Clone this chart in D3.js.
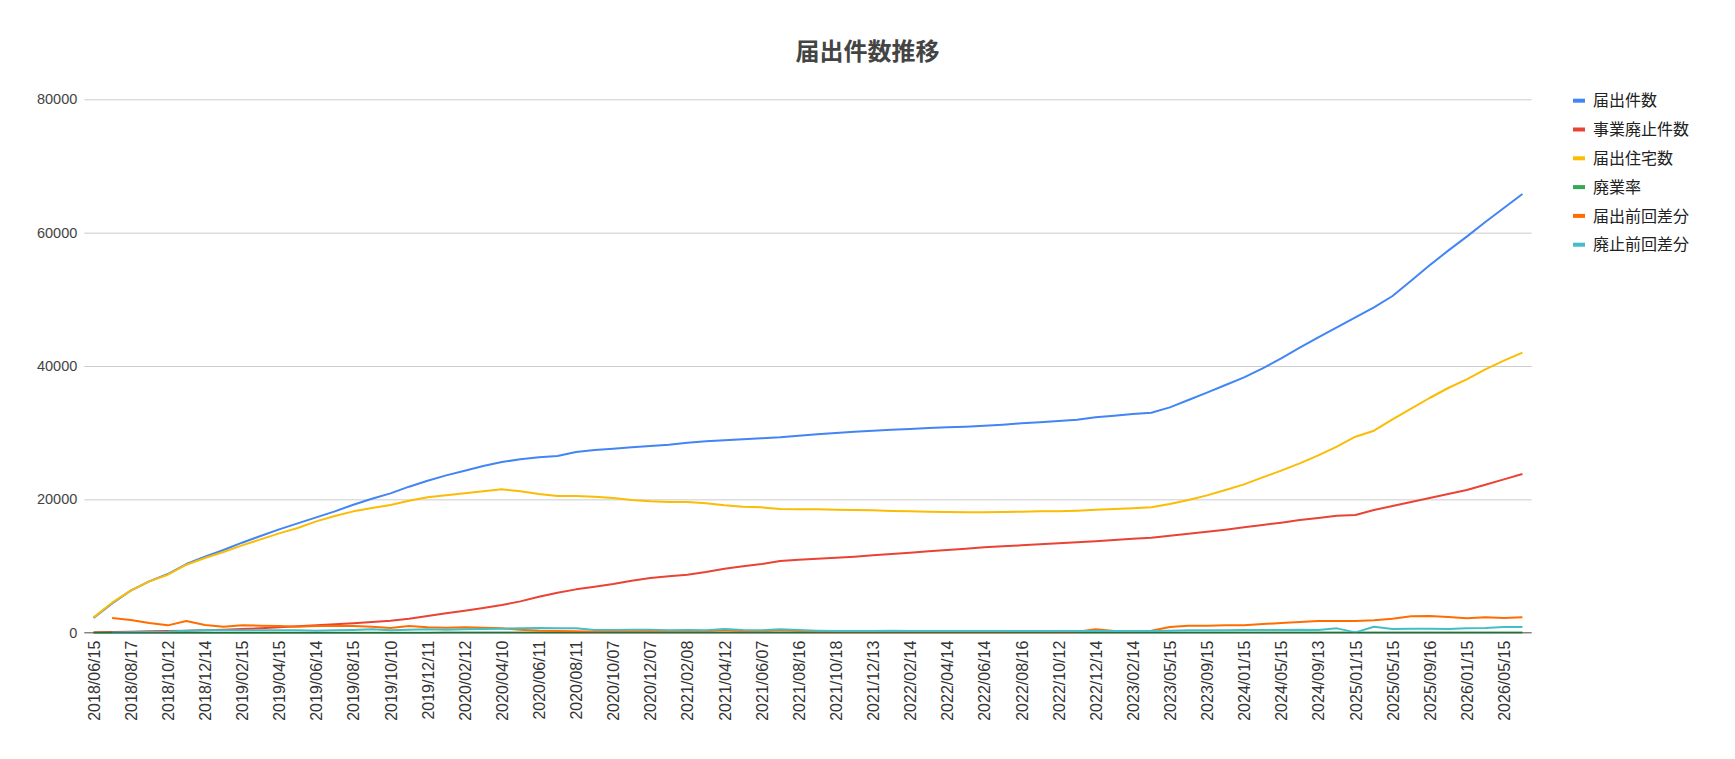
<!DOCTYPE html>
<html>
<head>
<meta charset="utf-8">
<script src="https://cdn.jsdelivr.net/npm/d3@7"></script>
<style>
  body { margin: 0; background: #fff; }
  svg { display: block; font-family: "Liberation Sans", Arial, "Noto Sans CJK JP", sans-serif; }
</style>
</head>
<body>
<div id="chart"></div>
<script>
// Data
const dates = [
  "2018/06/15", "2018/07/13", "2018/08/17", "2018/09/14", "2018/10/12", "2018/11/15", "2018/12/14", "2019/01/15",
  "2019/02/15", "2019/03/15", "2019/04/15", "2019/05/15", "2019/06/14", "2019/07/12", "2019/08/15", "2019/09/13",
  "2019/10/10", "2019/11/15", "2019/12/11", "2020/01/15", "2020/02/12", "2020/03/13", "2020/04/10", "2020/05/15",
  "2020/06/11", "2020/07/10", "2020/08/11", "2020/09/11", "2020/10/07", "2020/11/13", "2020/12/07", "2021/01/15",
  "2021/02/08", "2021/03/12", "2021/04/12", "2021/05/14", "2021/06/07", "2021/07/09", "2021/08/16", "2021/09/15",
  "2021/10/18", "2021/11/15", "2021/12/13", "2022/01/14", "2022/02/14", "2022/03/15", "2022/04/14", "2022/05/13",
  "2022/06/14", "2022/07/15", "2022/08/16", "2022/09/15", "2022/10/12", "2022/11/15", "2022/12/14", "2023/01/13",
  "2023/02/14", "2023/03/15", "2023/05/15", "2023/07/14", "2023/09/15", "2023/11/15", "2024/01/15", "2024/03/15",
  "2024/05/15", "2024/07/12", "2024/09/13", "2024/11/15", "2025/01/15", "2025/03/14", "2025/05/15", "2025/07/15",
  "2025/09/16", "2025/11/14", "2026/01/15", "2026/03/13", "2026/05/15", "2026/07/15"
];

const todokede = [
  2200, 4400, 6300, 7700, 8800, 10300, 11400, 12400, 13500, 14500, 15500, 16400, 17300, 18200, 19200, 20100,
  20900, 21900, 22800, 23600, 24300, 25000, 25600, 26000, 26300, 26500, 27100, 27400, 27600, 27800, 28000, 28200,
  28500, 28700, 28850, 29000, 29150, 29300, 29550, 29750, 29950, 30150, 30300, 30450, 30550, 30700, 30800, 30900,
  31050, 31200, 31400, 31550, 31750, 31950, 32300, 32550, 32800, 33000, 33800, 34900, 36000, 37150, 38300, 39650,
  41150, 42750, 44300, 45800, 47300, 48800, 50500, 52800, 55100, 57300, 59400, 61600, 63700, 65800
];

const haishi = [
  50, 100, 150, 200, 250, 300, 350, 450, 550, 650, 800, 950, 1100, 1250, 1400, 1600,
  1800, 2100, 2500, 2900, 3300, 3700, 4150, 4700, 5400, 6000, 6500, 6900, 7300, 7800, 8200, 8450,
  8700, 9100, 9600, 9950, 10300, 10750, 10950, 11100, 11250, 11400, 11600, 11800, 12000, 12200, 12400, 12600,
  12800, 12950, 13100, 13250, 13400, 13550, 13700, 13900, 14100, 14250, 14550, 14850, 15150, 15450, 15800, 16150,
  16500, 16900, 17200, 17550, 17650, 18400, 19000, 19600, 20200, 20800, 21400, 22200, 23000, 23800
];

const jutaku = [
  2300, 4500, 6300, 7700, 8700, 10200, 11200, 12100, 13100, 14000, 14900, 15700, 16700, 17500, 18200, 18700,
  19150, 19800, 20300, 20600, 20900, 21200, 21500, 21200, 20800, 20500, 20500, 20400, 20200, 19900, 19700, 19600,
  19600, 19400, 19100, 18900, 18800, 18550, 18500, 18500, 18450, 18400, 18350, 18250, 18200, 18150, 18100, 18050,
  18050, 18100, 18150, 18200, 18200, 18300, 18450, 18550, 18650, 18800, 19300, 19900, 20600, 21400, 22250, 23300,
  24300, 25400, 26600, 27900, 29400, 30300, 32000, 33600, 35200, 36700, 38000, 39500, 40800, 42000
];

const haigyoRitsu = [
  2, 2, 2, 3, 3, 3, 3, 4, 4, 4, 5, 6, 6, 7, 7, 8,
  9, 10, 11, 12, 14, 15, 16, 18, 21, 23, 24, 25, 26, 28, 29, 30,
  31, 32, 33, 34, 35, 36, 37, 37, 38, 38, 38, 39, 39, 40, 40, 41,
  41, 42, 42, 42, 42, 42, 42, 43, 43, 43, 43, 43, 42, 42, 41, 41,
  40, 40, 39, 39, 37, 38, 38, 37, 37, 37, 36, 36, 36, 36
];

const todokedeSabun = [
  null, 2200, 1900, 1450, 1100, 1750, 1150, 900, 1100, 1050, 1000, 900, 1000, 1000, 1000, 900,
  700, 1000, 800, 750, 800, 750, 650, 450, 300, 250, 200, 150, 250, 200, 250, 200,
  250, 200, 350, 200, 200, 350, 250, 150, 100, 100, 100, 150, 100, 100, 100, 100,
  100, 100, 150, 150, 100, 150, 500, 250, 200, 300, 850, 1050, 1050, 1100, 1100, 1300,
  1450, 1600, 1750, 1750, 1750, 1850, 2100, 2450, 2500, 2350, 2150, 2300, 2200, 2300
];

const haishiSabun = [
  null, 0, 50, 100, 150, 300, 400, 350, 350, 350, 350, 350, 300, 350, 400, 500,
  350, 450, 500, 450, 500, 550, 600, 650, 700, 650, 650, 400, 400, 450, 450, 350,
  400, 350, 550, 400, 350, 500, 400, 300, 250, 250, 250, 300, 250, 250, 250, 250,
  250, 250, 250, 250, 250, 250, 250, 250, 250, 250, 300, 350, 350, 350, 400, 400,
  400, 450, 400, 650, 50, 900, 550, 600, 600, 550, 650, 700, 850, 850
];

const yTicks = [0, 20000, 40000, 60000, 80000];

const series = [
  { name: "届出件数", values: todokede, color: "#4285F4" },
  { name: "事業廃止件数", values: haishi, color: "#EA4335" },
  { name: "届出住宅数", values: jutaku, color: "#FBBC04" },
  { name: "廃業率", values: haigyoRitsu, color: "#34A853" },
  { name: "届出前回差分", values: todokedeSabun, color: "#FF6D01" },
  { name: "廃止前回差分", values: haishiSabun, color: "#46BDC6" }
];

// Chart
const width = 1735, height = 759;
const margin = { top: 99.3, right: 203.3, bottom: 126.3, left: 84.3 };

const svg = d3.select("#chart").append("svg")
  .attr("width", width)
  .attr("height", height);

const x = d3.scalePoint()
  .domain(dates)
  .range([margin.left, width - margin.right])
  .padding(0.5);

const y = d3.scaleLinear()
  .domain([0, 80000])
  .range([height - margin.bottom, margin.top]);

svg.append("text")
  .attr("x", width / 2)
  .attr("y", 60)
  .attr("text-anchor", "middle")
  .attr("font-size", 24)
  .attr("font-weight", "bold")
  .attr("fill", "#444")
  .text("届出件数推移");

// y grid + labels
svg.append("g")
  .attr("transform", `translate(${margin.left},0)`)
  .call(d3.axisLeft(y).tickValues(yTicks).tickSize(-(width - margin.left - margin.right)).tickPadding(7).tickFormat(d3.format("d")))
  .call(g => g.select(".domain").remove())
  .call(g => g.selectAll(".tick line").attr("stroke", "#ccc"))
  .call(g => g.selectAll(".tick text")
    .attr("fill", "#444")
    .attr("font-size", 14.5)
    .attr("font-family", "Liberation Sans, Arial, sans-serif"));

// x labels (every second category)
svg.append("g")
  .attr("transform", `translate(0,${height - margin.bottom})`)
  .call(d3.axisBottom(x).tickValues(dates.filter((d, i) => i % 2 === 0)).tickSize(0))
  .call(g => g.select(".domain").remove())
  .call(g => g.selectAll(".tick text")
    .attr("fill", "#333")
    .attr("font-size", 16)
    .attr("font-family", "Liberation Sans, Arial, sans-serif")
    .attr("text-anchor", "end")
    .attr("transform", "rotate(-90)")
    .attr("x", -8)
    .attr("y", 0)
    .attr("dy", "0.35em"));

const line = d3.line()
  .defined(d => d != null)
  .x((d, i) => x(dates[i]))
  .y(d => y(d));

svg.append("g")
  .selectAll("path")
  .data(series)
  .join("path")
  .attr("fill", "none")
  .attr("stroke", d => d.color)
  .attr("stroke-width", 2)
  .attr("stroke-linejoin", "round")
  .attr("d", d => line(d.values));

// baseline
svg.append("line")
  .attr("x1", margin.left)
  .attr("x2", width - margin.right)
  .attr("y1", y(0))
  .attr("y2", y(0))
  .attr("stroke", "#333")
  .attr("stroke-opacity", 0.7)
  .attr("stroke-width", 1);

// legend
const legend = svg.append("g")
  .selectAll("g")
  .data(series)
  .join("g")
  .attr("transform", (d, i) => `translate(1573,${100.7 + i * 28.8})`);

legend.append("rect")
  .attr("x", 0)
  .attr("y", -2)
  .attr("width", 12)
  .attr("height", 4)
  .attr("fill", d => d.color);

legend.append("text")
  .attr("x", 20)
  .attr("dy", "0.35em")
  .attr("font-size", 16)
  .attr("fill", "#222")
  .attr("font-family", "Noto Sans CJK JP, sans-serif")
  .text(d => d.name);
</script>
</body>
</html>
